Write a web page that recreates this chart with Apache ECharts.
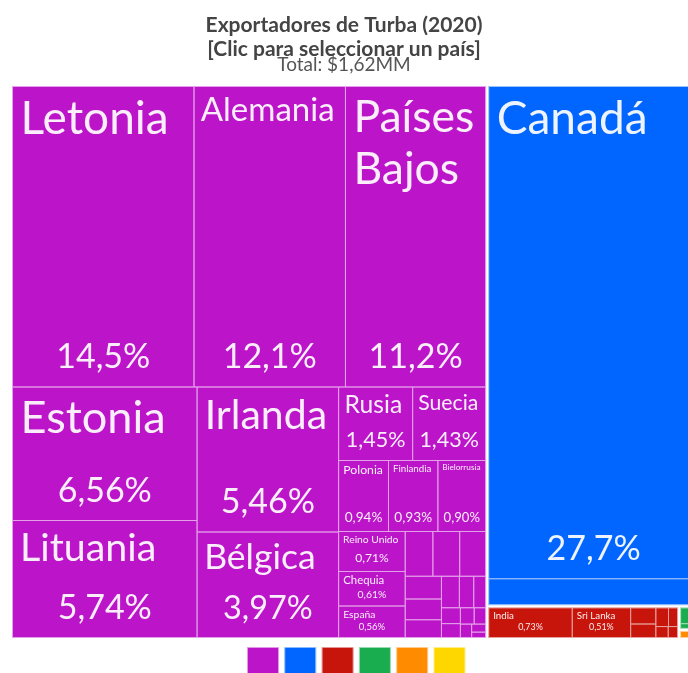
<!DOCTYPE html>
<html lang="es">
<head>
<meta charset="UTF-8">
<title>Exportadores de Turba (2020)</title>
<style>
  html, body { margin: 0; padding: 0; background: #fff; }
  #chart { width: 688px; height: 673px; }
</style>
</head>
<body>
<div id="chart"></div>
<script src="https://cdn.jsdelivr.net/npm/echarts/dist/echarts.min.js"></script>
<script>
// continentes y sus paises (valores = % del total exportado)
var continentes = ['Europa', 'América del Norte', 'Asia', 'África', 'América del Sur', 'Oceanía'];
var colores = ['#bc15c9', '#0066ff', '#c8150c', '#19ad4f', '#ff8c00', '#ffd700'];

var europaPaises = ['Letonia', 'Alemania', 'Países Bajos', 'Estonia', 'Lituania', 'Irlanda', 'Bélgica',
  'Rusia', 'Suecia', 'Polonia', 'Finlandia', 'Bielorrusia', 'Reino Unido', 'Chequia', 'España',
  'Francia', 'Noruega', 'Ucrania', 'Dinamarca', 'Austria', 'Italia', 'Hungría', 'Eslovaquia',
  'Portugal', 'Eslovenia', 'Rumanía', 'Suiza', 'Croacia', 'Bulgaria', 'Serbia', 'Grecia'];
var europaValores = [14.5, 12.1, 11.2, 6.56, 5.74, 5.46, 3.97,
  1.45, 1.43, 0.94, 0.93, 0.90, 0.71, 0.61, 0.56,
  0.33, 0.32, 0.31, 0.22, 0.20, 0.17, 0.15, 0.12,
  0.10, 0.08, 0.07, 0.06, 0.05, 0.04, 0.03, 0.02];

var nortePaises = ['Canadá', 'Estados Unidos'];
var norteValores = [27.7, 1.46];

var asiaPaises = ['India', 'Sri Lanka', 'China', 'Japón', 'Corea del Sur', 'Israel', 'Indonesia', 'Malasia'];
var asiaValores = [0.73, 0.51, 0.12, 0.10, 0.07, 0.05, 0.04, 0.03];

var africaPaises = ['Sudáfrica', 'Egipto'];
var africaValores = [0.10, 0.03];

var surPaises = ['Chile'];
var surValores = [0.03];

var oceaniaPaises = ['Australia'];
var oceaniaValores = [0.02];

var paises = [europaPaises, nortePaises, asiaPaises, africaPaises, surPaises, oceaniaPaises];
var valores = [europaValores, norteValores, asiaValores, africaValores, surValores, oceaniaValores];

var FONT = 'Lato, "Open Sans", sans-serif';
var ctx = document.createElement('canvas').getContext('2d');

function anchoTexto(txt, size) {
  ctx.font = size + 'px ' + FONT;
  return ctx.measureText(txt).width;
}

function pct(v) {
  return (v >= 10 ? v.toFixed(1) : v.toFixed(2)).replace('.', ',') + '%';
}

// mezcla un color con blanco
function palido(hex, k) {
  var n = parseInt(hex.slice(1), 16);
  var r = (n >> 16) & 255, g = (n >> 8) & 255, b = n & 255;
  var m = function (c) { return Math.round(c + (255 - c) * k); };
  return 'rgb(' + m(r) + ',' + m(g) + ',' + m(b) + ')';
}

function partirLineas(nombre, size, ancho) {
  var palabras = nombre.split(' ');
  var lineas = [];
  var actual = '';
  palabras.forEach(function (w) {
    var t = actual ? actual + ' ' + w : w;
    if (actual && anchoTexto(t, size) > ancho) {
      lineas.push(actual);
      actual = w;
    } else {
      actual = t;
    }
  });
  lineas.push(actual);
  return lineas;
}

// etiqueta estilo "nombre arriba, porcentaje abajo" a partir del tamaño de la celda
function etiqueta(nombre, valor, caja) {
  if (!caja) return { show: false };
  var w = caja.width, h = caja.height;
  if (w < 40 || h < 25) return { show: false };
  var texto = pct(valor);

  var ps = Math.min(34, h * 0.31);
  while (ps > 5 && anchoTexto(texto, ps) > w - 2 * (3 + 0.15 * ps)) ps -= 0.5;

  var ns = Math.min(46, h * 0.34);
  var lineas = [nombre];
  for (; ns > 5; ns -= 0.5) {
    var pad = 3 + 0.13 * ns;
    lineas = partirLineas(nombre, ns, w - 2 * pad);
    var cabe = lineas.every(function (l) { return anchoTexto(l, ns) <= w - 2 * pad; });
    var alto = (2 + 0.1 * ns) + lineas.length * ns * 1.15 + ps * 1.15 + (2 + 0.2 * ps);
    if (cabe && alto <= h) break;
  }

  var padTop = 1 + 0.1 * ns;
  var padLeft = 3 + 0.1 * ns;
  var lhN = ns * 1.15, lhP = ps * 1.15;
  var hueco = h - padTop - lineas.length * lhN - lhP - (2 + 0.2 * ps) - 1;
  if (hueco < 0.5) hueco = 0.5;

  var fmt = lineas.map(function (l) { return '{n|' + l + '}'; }).join('\n') +
    '\n{g|}\n{p|' + texto + '}';

  return {
    show: true,
    position: 'insideTopLeft',
    distance: 0,
    padding: [padTop, padLeft, 0, padLeft],
    overflow: 'none',
    formatter: fmt,
    rich: {
      n: { fontSize: ns, lineHeight: lhN, fontFamily: FONT, color: 'rgba(255,255,255,0.93)' },
      g: { fontSize: 1, height: hueco, lineHeight: hueco },
      p: { fontSize: ps, lineHeight: lhP, fontFamily: FONT, align: 'center', color: 'rgba(255,255,255,0.93)' }
    }
  };
}

function construirDatos(cajas) {
  return continentes.map(function (c, i) {
    return {
      name: c,
      itemStyle: { color: colores[i], borderColor: palido(colores[i], 0.6) },
      children: paises[i].map(function (p, j) {
        return {
          name: p,
          value: valores[i][j],
          itemStyle: { color: colores[i] },
          label: cajas ? etiqueta(p, valores[i][j], cajas[p]) : { show: false }
        };
      })
    };
  });
}

var option = {
  animation: false,
  backgroundColor: '#fff',
  title: {
    left: 'center',
    top: 8,
    text: 'Exportadores de Turba (2020)\n[Clic para seleccionar un país]',
    textStyle: { fontFamily: FONT, fontSize: 21, fontWeight: 'bold', color: '#444', lineHeight: 24 },
    subtext: 'Total: $1,62MM',
    subtextStyle: { fontFamily: FONT, fontSize: 19, color: '#555' },
    itemGap: -6
  },
  graphic: colores.map(function (c, i) {
    return {
      type: 'rect',
      left: 247 + i * 37.3,
      top: 647,
      shape: { width: 31, height: 26 },
      style: { fill: c, stroke: palido(c, 0.55), lineWidth: 1 }
    };
  }),
  series: [{
    type: 'treemap',
    left: 12,
    top: 86,
    width: 687,
    height: 552,
    roam: false,
    nodeClick: false,
    breadcrumb: { show: false },
    upperLabel: { show: false },
    label: { show: false },
    levels: [
      { itemStyle: { borderWidth: 0, gapWidth: 2, borderColor: '#fff' } },
      { itemStyle: { borderWidth: 1, gapWidth: 1 } },
      { itemStyle: { borderWidth: 0 } }
    ],
    data: construirDatos(null)
  }]
};

var chart = echarts.init(document.getElementById('chart'));
chart.setOption(option);

// segunda pasada: tamaños de celda calculados por el propio treemap
var cajas = {};
chart.getModel().getSeriesByIndex(0).getData().tree.root.eachNode(function (node) {
  if (node.depth === 2 && node.getLayout()) cajas[node.name] = node.getLayout();
});
chart.setOption({ series: [{ data: construirDatos(cajas) }] });
</script>
</body>
</html>
